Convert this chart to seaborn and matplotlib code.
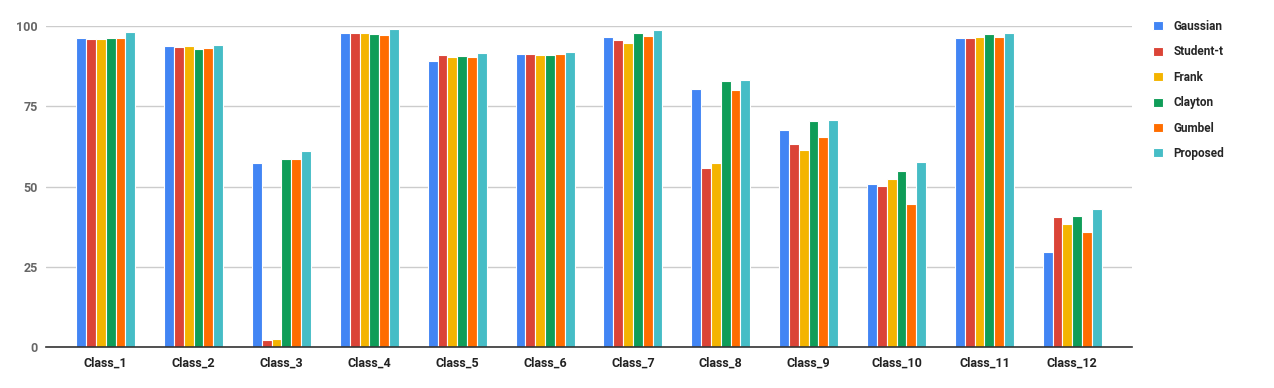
import numpy as np
import pandas as pd
import matplotlib
matplotlib.use('Agg')
import matplotlib.pyplot as plt
import seaborn as sns

# -------------------------
# Data
# -------------------------
classes = ['Class_1', 'Class_2', 'Class_3', 'Class_4', 'Class_5', 'Class_6',
           'Class_7', 'Class_8', 'Class_9', 'Class_10', 'Class_11', 'Class_12']
methods = ['Gaussian', 'Student-t', 'Frank', 'Clayton', 'Gumbel', 'Proposed']

gaussian = [96.3, 93.8, 57.3, 97.8, 89.1, 91.3, 96.6, 80.4, 67.6, 50.8, 96.3, 29.6]
student_t = [95.9, 93.5, 2.2, 97.8, 91.0, 91.3, 95.6, 55.8, 63.2, 50.2, 96.3, 40.5]
frank = [95.9, 93.8, 2.5, 97.8, 90.3, 91.0, 94.7, 57.3, 61.4, 52.3, 96.6, 38.3]
clayton = [96.3, 92.8, 58.6, 97.5, 90.7, 91.0, 97.8, 82.9, 70.4, 54.8, 97.5, 40.8]
gumbel = [96.3, 93.1, 58.6, 97.2, 90.3, 91.3, 96.9, 80.1, 65.4, 44.5, 96.6, 35.8]
proposed = [98.1, 94.1, 61.1, 99.1, 91.6, 92.0, 98.8, 83.2, 70.7, 57.6, 97.8, 43.0]

colors = ['#4285F4', '#DB4437', '#F4B400', '#0F9D58', '#FF6D00', '#46BDC6']

df = pd.DataFrame({'Class': classes, 'Gaussian': gaussian, 'Student-t': student_t,
                   'Frank': frank, 'Clayton': clayton, 'Gumbel': gumbel,
                   'Proposed': proposed})
long_df = df.melt(id_vars='Class', var_name='Method', value_name='Score')

# -------------------------
# Plot
# -------------------------
sns.set_style('white')
plt.rcParams['font.family'] = ['Roboto', 'DejaVu Sans']

fig = plt.figure(figsize=(12.74, 3.88), dpi=100)
ax = fig.add_axes([46 / 1274, 41 / 388, 1086 / 1274, 321 / 388])

sns.barplot(data=long_df, x='Class', y='Score', hue='Method', order=classes,
            hue_order=methods, palette=colors, width=0.67, saturation=1,
            edgecolor='white', linewidth=0.8, errorbar=None, ax=ax)

ax.set_ylim(0, 100)
ax.set_xlim(-0.68, 11.68)
ax.set_yticks([0, 25, 50, 75, 100])
ax.yaxis.grid(True, color='#cccccc', linewidth=1)
ax.set_axisbelow(True)
for s in ['top', 'right', 'left']:
    ax.spines[s].set_visible(False)
ax.spines['bottom'].set_color('#333333')
ax.spines['bottom'].set_linewidth(1.2)
ax.tick_params(axis='both', length=0)
ax.tick_params(axis='y', labelsize=9, labelcolor='#666666', pad=6)
ax.tick_params(axis='x', labelsize=9, labelcolor='#222222', pad=7)
for lbl in ax.get_xticklabels():
    lbl.set_fontweight('bold')
for lbl in ax.get_yticklabels():
    lbl.set_fontweight('bold')
ax.set_xlabel('')
ax.set_ylabel('')

ax.legend(loc='upper left', bbox_to_anchor=(1.010, 1.052), frameon=False,
          handlelength=0.8, handleheight=0.8, handletextpad=0.9,
          labelspacing=1.05, prop={'size': 8.5, 'weight': 'bold'})

fig.savefig('out.png', dpi=100)
